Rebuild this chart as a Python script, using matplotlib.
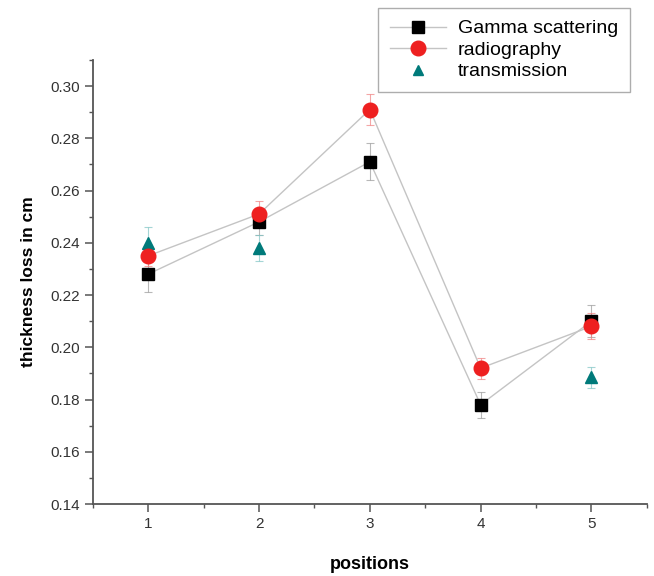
#!/usr/bin/env python3
"""Thickness loss per position for three measurement methods."""

import numpy as np
import matplotlib

matplotlib.use("Agg")

import matplotlib.pyplot as plt
from matplotlib.lines import Line2D
from matplotlib.ticker import MultipleLocator, FormatStrFormatter

positions = [1, 2, 3, 4, 5]

gamma = [0.228, 0.248, 0.271, 0.178, 0.210]
gamma_err = [0.007, 0.005, 0.007, 0.005, 0.006]

radiography = [0.235, 0.251, 0.291, 0.192, 0.208]
radiography_err = [0.004, 0.005, 0.006, 0.004, 0.005]

transmission = [0.240, 0.238, np.nan, np.nan, 0.1885]
transmission_err = [0.006, 0.005, np.nan, np.nan, 0.004]

plt.rcParams["font.family"] = ["Liberation Sans", "DejaVu Sans"]

fig = plt.figure(figsize=(6.54, 5.76), dpi=100)
ax = fig.add_axes([0.142, 0.125, 0.847, 0.771])

line_color = "#c4c4c4"

ax.plot(positions, gamma, color=line_color, lw=1.0, zorder=1)
ax.plot(positions, radiography, color=line_color, lw=1.0, zorder=1)

ax.errorbar(positions, gamma, yerr=gamma_err, fmt="none", ecolor="#9a9a9a",
            elinewidth=0.8, capsize=3, capthick=0.8, alpha=0.7, zorder=2)
ax.errorbar(positions, radiography, yerr=radiography_err, fmt="none", ecolor="#f08080",
            elinewidth=0.8, capsize=3, capthick=0.8, alpha=0.7, zorder=2)
ax.errorbar(positions, transmission, yerr=transmission_err, fmt="none", ecolor="#7fc4c4",
            elinewidth=0.8, capsize=3, capthick=0.8, alpha=0.7, zorder=2)

ax.plot(positions, gamma, "s", color="black", ms=8.5, zorder=3)
ax.plot(positions, radiography, "o", color="#ee2020", ms=10.5, zorder=4)
ax.plot(positions, transmission, "^", color="#007a7a", ms=8, ls="none", zorder=3)

ax.set_xlim(0.5, 5.5)
ax.set_ylim(0.14, 0.31)
ax.set_xticks(positions)
ax.set_yticks(np.arange(0.14, 0.301, 0.02))
ax.yaxis.set_major_formatter(FormatStrFormatter("%.2f"))
ax.yaxis.set_minor_locator(MultipleLocator(0.01))
ax.xaxis.set_minor_locator(MultipleLocator(0.5))

for side in ("top", "right"):
    ax.spines[side].set_visible(False)
for side in ("left", "bottom"):
    ax.spines[side].set_color("#555555")
    ax.spines[side].set_linewidth(1.3)

ax.tick_params(which="major", direction="out", length=6, width=1.1, colors="#555555",
               labelsize=11, labelcolor="#333333")
ax.tick_params(which="minor", direction="out", length=3, width=1.0, colors="#555555")

ax.set_xlabel("positions", fontsize=13, fontweight="bold", labelpad=18)
ax.set_ylabel("thickness loss in cm", fontsize=12.5, fontweight="bold", labelpad=10)

leg_handles = [
    Line2D([], [], color=line_color, marker="s", mfc="black", mec="black", ms=8, lw=1.0),
    Line2D([], [], color=line_color, marker="o", mfc="#ee2020", mec="#ee2020", ms=10.5, lw=1.0),
    Line2D([], [], ls="none", marker="^", mfc="#007a7a", mec="#007a7a", ms=7),
]
leg = fig.legend(leg_handles, ["Gamma scattering", "radiography", "transmission"],
                 loc="upper left", bbox_to_anchor=(0.578, 0.986), fontsize=14,
                 frameon=True, fancybox=False, handlelength=2.9, borderpad=0.6,
                 labelspacing=0.2, handletextpad=0.6, borderaxespad=0.0)
leg.get_frame().set_edgecolor("#999999")
leg.get_frame().set_linewidth(1.0)

fig.savefig("out.png", dpi=100)
